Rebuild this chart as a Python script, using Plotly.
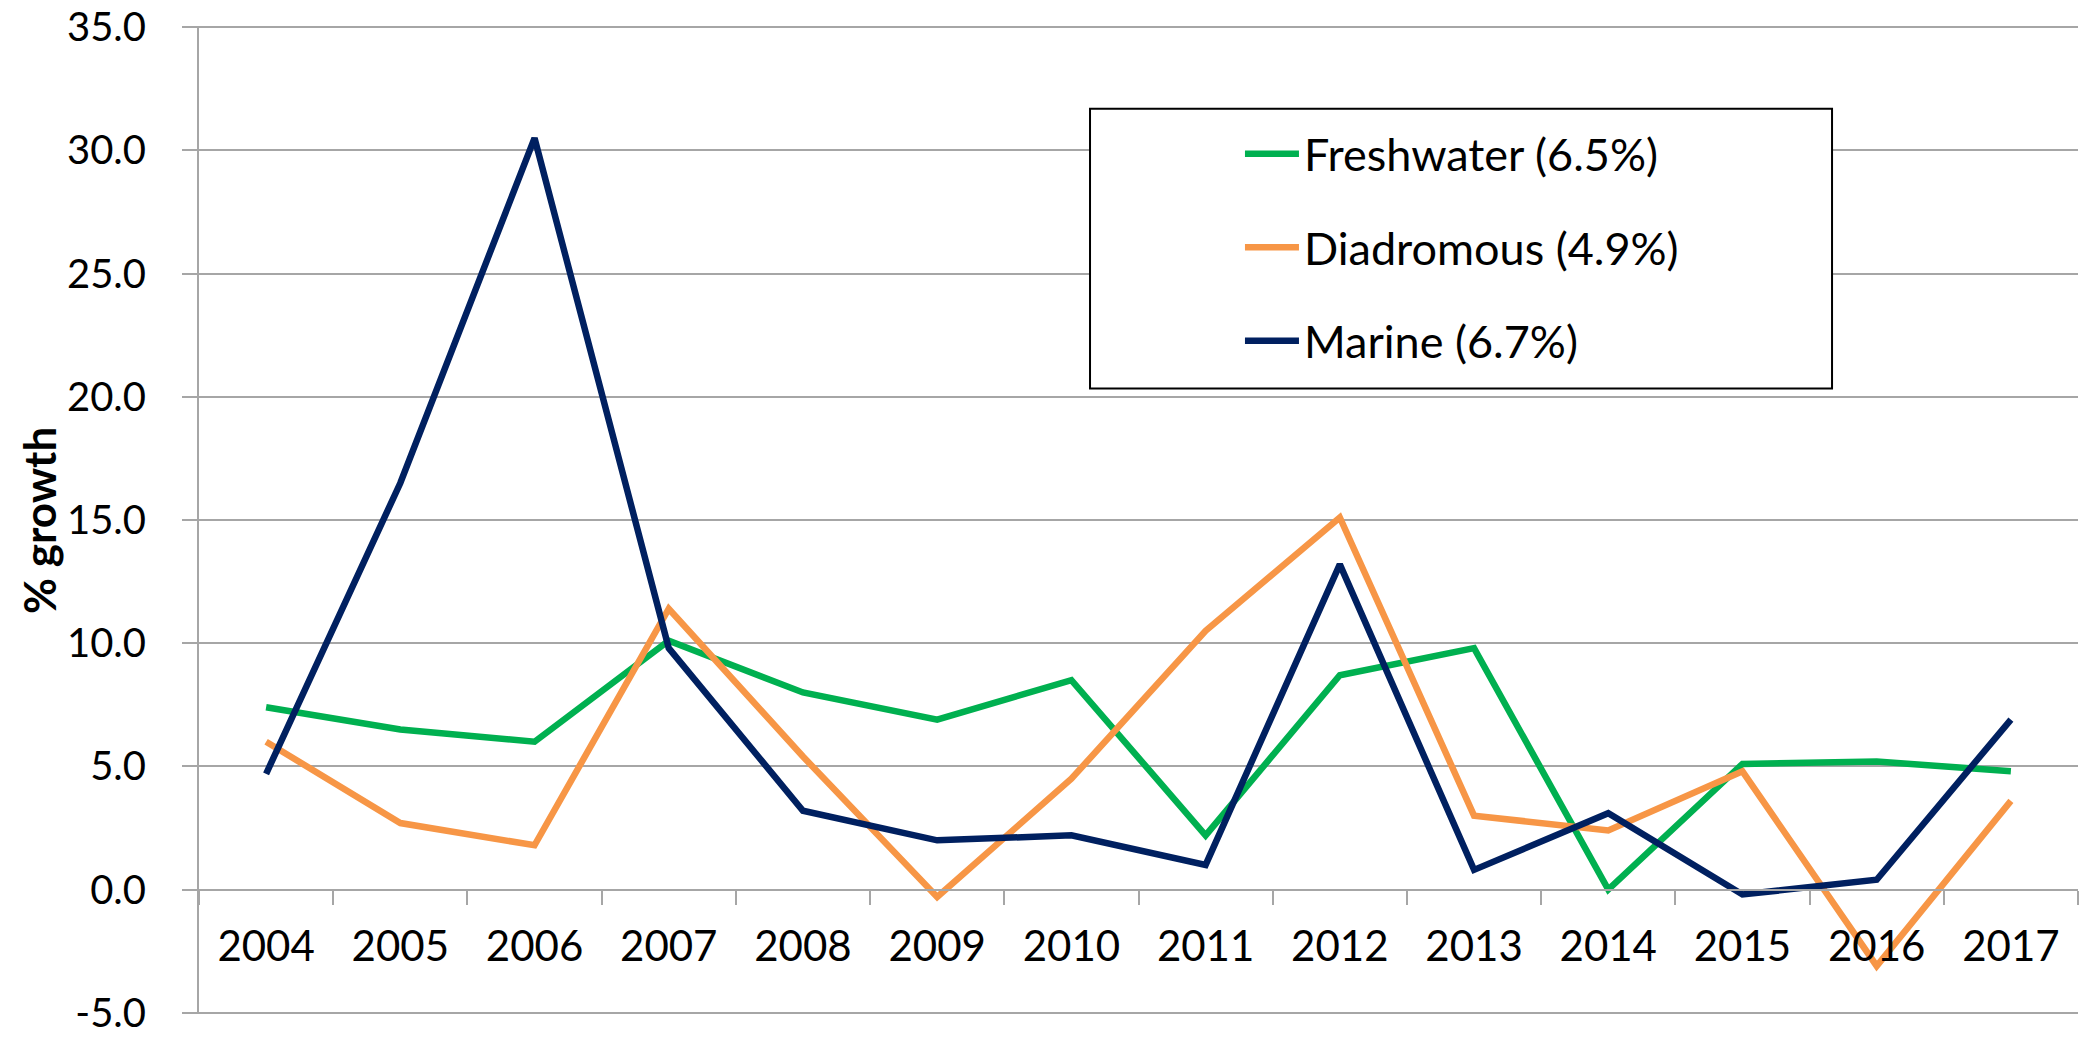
import plotly.graph_objects as go

# Annual growth rates (%) by aquaculture environment
years = ["2004", "2005", "2006", "2007", "2008", "2009", "2010",
         "2011", "2012", "2013", "2014", "2015", "2016", "2017"]

freshwater = [7.4, 6.5, 6.0, 10.1, 8.0, 6.9, 8.5, 2.2, 8.7, 9.8, 0.0, 5.1, 5.2, 4.8]
diadromous = [6.0, 2.7, 1.8, 11.4, 5.4, -0.3, 4.5, 10.5, 15.1, 3.0, 2.4, 4.8, -3.1, 3.6]
marine = [4.7, 16.5, 30.5, 9.8, 3.2, 2.0, 2.2, 1.0, 13.2, 0.8, 3.1, -0.2, 0.4, 6.9]

series_names = ["Freshwater (6.5%)", "Diadromous (4.9%)", "Marine (6.7%)"]
series_values = [freshwater, diadromous, marine]
series_colors = ["#00B050", "#F79646", "#002060"]

y_tick_values = [-5, 0, 5, 10, 15, 20, 25, 30, 35]
y_tick_labels = ["-5.0", "0.0", "5.0", "10.0", "15.0", "20.0", "25.0", "30.0", "35.0"]

FONT = "Lato"
GRID = "#a6a6a6"

fig = go.Figure()
for name, vals, color in zip(series_names, series_values, series_colors):
    fig.add_trace(go.Scatter(
        x=years, y=vals, name=name, mode="lines",
        legendgroup=name,
        line=dict(color=color, width=6.5),
    ))

# a hair of padding so the end gridlines (-5 and 35) are still drawn
y_min, y_max = -5.05, 35.05

fig.update_layout(
    width=2080, height=1038,
    margin=dict(l=199, r=2, t=21, b=23),
    paper_bgcolor="white", plot_bgcolor="white",
    font=dict(family=FONT, size=44, color="black"),
    showlegend=True,
    legend=dict(
        x=0.554, y=0.907, xanchor="left", yanchor="top",
        bgcolor="rgba(0,0,0,0)", borderwidth=0,
        traceorder="grouped", tracegroupgap=32,
        itemwidth=54,
        font=dict(family=FONT, size=45, color="black"),
    ),
    xaxis=dict(
        type="category",
        range=[-0.5, len(years) - 0.5],
        anchor="free",
        position=(0 - y_min) / (y_max - y_min),
        showline=True, linecolor=GRID, linewidth=2,
        ticks="outside", ticklen=14, tickwidth=2, tickcolor=GRID,
        tickson="boundaries",
        showgrid=False, zeroline=False,
        tickfont=dict(family=FONT, size=42, color="black"),
        ticklabelstandoff=20,
    ),
    yaxis=dict(
        range=[y_min, y_max],
        tickvals=y_tick_values, ticktext=y_tick_labels,
        ticklabeloverflow="allow",
        showgrid=True, gridcolor=GRID, gridwidth=2,
        zeroline=False,
        showline=True, linecolor=GRID, linewidth=2,
        ticks="outside", ticklen=15, tickwidth=2, tickcolor=GRID,
        tickfont=dict(family=FONT, size=40, color="black"),
        ticklabelstandoff=28,
    ),
    annotations=[dict(
        text="<b>% growth</b>", textangle=-90,
        xref="paper", yref="paper", x=-0.0852, y=0.5,
        xanchor="center", yanchor="middle", showarrow=False,
        font=dict(family=FONT, size=44, color="black"),
    )],
    shapes=[dict(
        type="rect", xref="paper", yref="paper",
        x0=0.4742, x1=0.8691, y0=0.6331, y1=0.9163,
        line=dict(color="black", width=2),
        fillcolor="white", layer="above",
    )],
)

fig.write_html("out.html")
